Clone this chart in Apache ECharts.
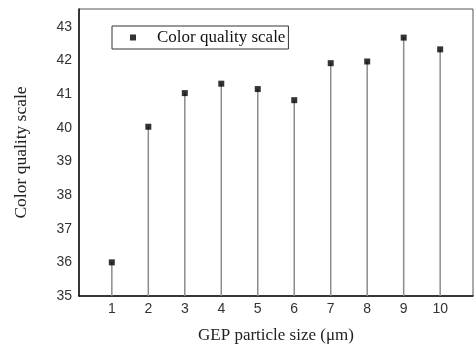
<!DOCTYPE html>
<html>
<head>
<meta charset="utf-8">
<script src="https://cdn.jsdelivr.net/npm/echarts@6/dist/echarts.min.js"></script>
<style>html,body{margin:0;padding:0;background:#fff;}#c{width:474px;height:349px;}</style>
</head>
<body>
<div id="c"></div>
<script>
var sizes = [1, 2, 3, 4, 5, 6, 7, 8, 9, 10];
var cqs = [36.0, 40.03, 41.03, 41.31, 41.15, 40.82, 41.92, 41.97, 42.68, 42.33];
var yTicks = [35, 36, 37, 38, 39, 40, 41, 42, 43];
var seriesName = 'Color quality scale';

var pts = sizes.map(function (s, i) { return [s, cqs[i]]; });
var chart = echarts.init(document.getElementById('c'), null, {renderer: 'canvas'});
chart.setOption({
  animation: false,
  backgroundColor: '#fff',
  grid: {left: 79, right: 1, top: 9, bottom: 50, show: true, borderColor: '#555', borderWidth: 1},
  legend: {
    data: [seriesName], left: 112, top: 26, orient: 'horizontal',
    icon: 'rect', itemWidth: 6, itemHeight: 6,
    borderColor: '#333', borderWidth: 1, borderRadius: 0,
    padding: [2, 3, 2, 18],
    textStyle: {fontFamily: 'Liberation Serif', fontSize: 17, color: '#111', lineHeight: 19, padding: [0, 0, 0, 16]}
  },
  xAxis: {
    type: 'value', min: 0.1, max: 10.9,
    name: 'GEP particle size (\u03bcm)', nameLocation: 'middle', nameGap: 31,
    nameTextStyle: {fontFamily: 'Liberation Serif', fontSize: 17, color: '#222'},
    axisLine: {show: true, lineStyle: {color: '#111', width: 1.5}},
    axisTick: {show: false},
    splitLine: {show: false},
    axisLabel: {customValues: sizes, fontFamily: 'Liberation Sans', fontSize: 14, color: '#333', margin: 6}
  },
  yAxis: {
    type: 'value', min: 35, max: 43.53,
    name: 'Color quality scale', nameLocation: 'middle', nameGap: 49,
    nameTextStyle: {fontFamily: 'Liberation Serif', fontSize: 17.5, color: '#222'},
    axisLine: {show: true, lineStyle: {color: '#111', width: 1.5}},
    axisTick: {show: false},
    splitLine: {show: false},
    axisLabel: {customValues: yTicks, fontFamily: 'Liberation Sans', fontSize: 14, color: '#333', margin: 7}
  },
  series: [
    {type: 'bar', name: 'stem', data: pts, barWidth: 1.5, itemStyle: {color: '#8c8c8c'}, silent: true},
    {type: 'scatter', name: seriesName, data: pts, symbol: 'rect', symbolSize: 6, itemStyle: {color: '#000'}, z: 5}
  ]
});
</script>
</body>
</html>
